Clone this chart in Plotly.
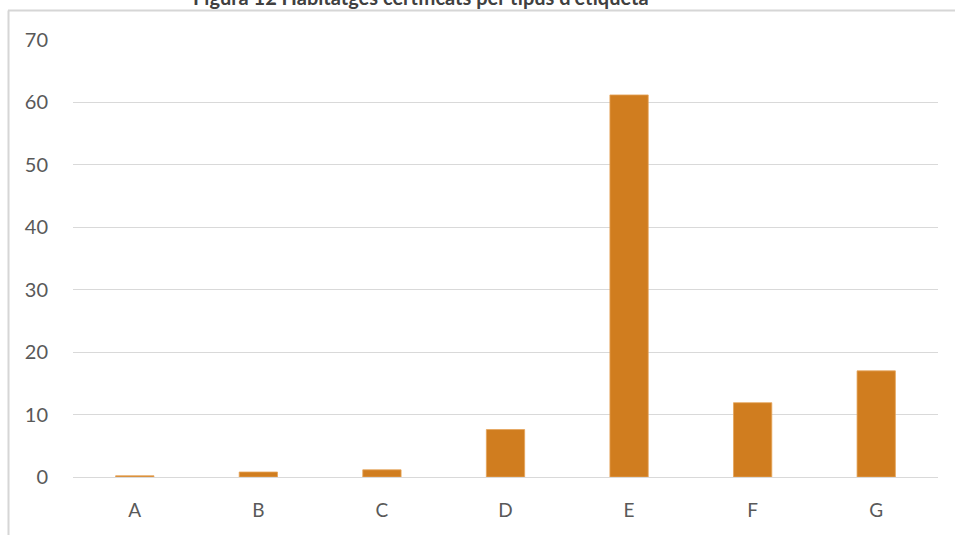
import plotly.graph_objects as go

categories = ["A", "B", "C", "D", "E", "F", "G"]
values = [0.2, 0.8, 1.15, 7.6, 61.2, 11.9, 17.0]
title_text = "Figura 12 Habitatges certificats per tipus d'etiqueta"
y_ticks = [0, 10, 20, 30, 40, 50, 60, 70]

W, H = 955, 535
L, R, T, B = 73, 17, 40, 58
pw, ph = W - L - R, H - T - B

def px_x(x):
    return (x - L) / pw

def px_y(y):
    return (H - B - y) / ph

FONT = "Lato, 'Open Sans', sans-serif"

fig = go.Figure(
    go.Bar(
        x=categories,
        y=values,
        marker=dict(color="#D07D1F", line=dict(color="#E6A45A", width=0.8)),
        width=0.31,
    )
)

fig.update_layout(
    width=W,
    height=H,
    margin=dict(l=L, r=R, t=T, b=B),
    paper_bgcolor="white",
    plot_bgcolor="white",
    showlegend=False,
    font=dict(family=FONT, color="#595959", size=20),
    xaxis=dict(
        showgrid=False,
        showline=False,
        ticks="",
        ticklabelstandoff=20,
        tickfont=dict(size=19, color="#595959"),
    ),
    yaxis=dict(
        range=[0, 70],
        tickvals=y_ticks,
        showgrid=True,
        gridcolor="#D9D9D9",
        gridwidth=1,
        zeroline=True,
        zerolinecolor="#D9D9D9",
        zerolinewidth=1,
        showline=False,
        ticks="",
        ticklabelstandoff=24,
        tickfont=dict(size=20, color="#595959"),
    ),
    shapes=[
        dict(type="line", xref="paper", yref="paper", layer="above",
             x0=px_x(8.5), x1=px_x(8.5), y0=px_y(10.5), y1=px_y(540),
             line=dict(color="#D6D6D6", width=2)),
        dict(type="line", xref="paper", yref="paper", layer="above",
             x0=px_x(8), x1=px_x(955), y0=px_y(10.5), y1=px_y(10.5),
             line=dict(color="#D6D6D6", width=2)),
    ],
    annotations=[
        dict(text="<b>" + title_text + "</b>", xref="paper", yref="paper",
             x=px_x(421), y=px_y(11), xanchor="center", yanchor="bottom",
             showarrow=False, font=dict(size=20, color="#404040", family=FONT)),
    ],
)

fig.write_html(
    "out.html",
    config={"displayModeBar": False},
    post_script="document.body.style.margin='0';document.body.style.overflow='hidden';",
)
